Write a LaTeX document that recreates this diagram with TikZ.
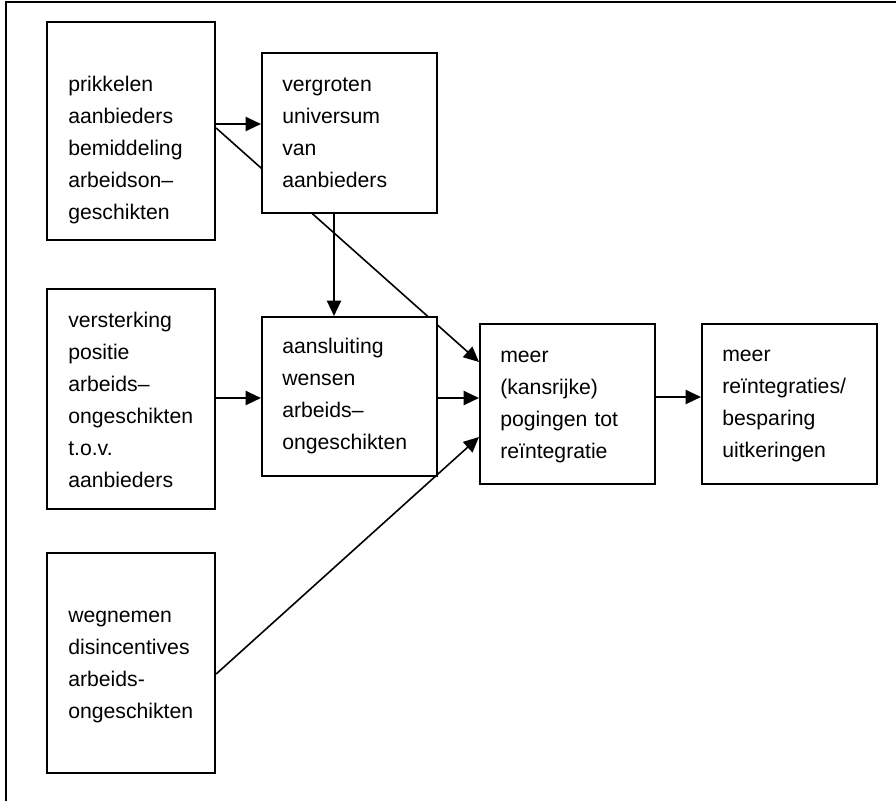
\documentclass[tikz,border=0pt]{standalone}
\usepackage{fontspec}
\setmainfont{Liberation Sans}
\usetikzlibrary{arrows.meta,calc}
\pgfdeclarelayer{behind}
\pgfsetlayers{behind,main}
\begin{document}
\begin{tikzpicture}[x=0.75pt,y=-0.75pt,
  box/.style={draw, fill=white, line width=1.6pt, inner sep=0pt,
    anchor=north west, minimum width=#1},
  box/.default={126pt},
  txt/.style={anchor=base west, inner sep=0pt, align=left, text width=130pt,
    font=\fontsize{15.9pt}{24pt}\selectfont},
  arr/.style={line width=1.6pt, -{Triangle[length=11.5pt,width=10.5pt]}},
  thin arr/.style={line width=1.2pt, -{Triangle[length=11.5pt,width=10.5pt]}}]
\useasboundingbox (0,0) rectangle (896,800);

% outer frame (open at right and bottom)
\draw[line width=2.2pt] (6,802) -- (6,2) -- (900,2);

% boxes
\node[box, minimum height=163.5pt] (A) at (46,21) {};
\node[box=131.25pt, minimum height=120pt] (B) at (261,52) {};
\node[box, minimum height=165pt] (D) at (46,288) {};
\node[box=131.25pt, minimum height=119.25pt] (C) at (261,316) {};
\node[box, minimum height=165pt] (F) at (46,552) {};
\node[box=131.25pt, minimum height=120pt] (M) at (479,323) {};
\node[box=131.25pt, minimum height=120pt] (E) at (701,323) {};

% box texts
\node[txt] (tA) at ($(A.north west)+(22,70)$)
  {prikkelen\\aanbieders\\bemiddeling\\arbeidson–\\geschikten};
\node[txt] (tB) at ($(B.north west)+(21,39)$)
  {vergroten\\universum\\van\\aanbieders};
\node[txt] (tD) at ($(D.north west)+(22,39)$)
  {versterking\\positie\\arbeids–\\ongeschikten\\t.o.v.\\aanbieders};
\node[txt] (tC) at ($(C.north west)+(21,37)$)
  {aansluiting\\wensen\\arbeids–\\ongeschikten};
\node[txt] (tF) at ($(F.north west)+(22,70)$)
  {wegnemen\\disincentives\\arbeids-\\ongeschikten};
\node[txt] (tM) at ($(M.north west)+(21,39)$)
  {meer\\(kansrijke)\\pogingen tot\\reïntegratie};
\node[txt] (tE) at ($(E.north west)+(21,38)$)
  {meer\\reïntegraties/\\besparing\\uitkeringen};

% connectors
\begin{pgfonlayer}{behind}
  \draw[thin arr] ($(A.north east)+(0,107)$) -- ($(M.north west)+(0,39)$);
\end{pgfonlayer}
\draw[arr] ($(A.north east)+(0,103)$) -- ($(B.north west)+(0,72)$);
\draw[arr] ($(B.south west)+(73,0)$) -- ($(C.north west)+(73,0)$);
\draw[arr] ($(D.north east)+(0,110)$) -- ($(C.north west)+(0,82)$);
\draw[arr] ($(C.north east)+(0,82)$) -- ($(M.north west)+(0,75)$);
\draw[arr] ($(M.north east)+(0,74)$) -- ($(E.north west)+(0,74)$);
\draw[thin arr] ($(F.north east)+(0,122)$) -- ($(M.north west)+(0,114)$);
\end{tikzpicture}
\end{document}
